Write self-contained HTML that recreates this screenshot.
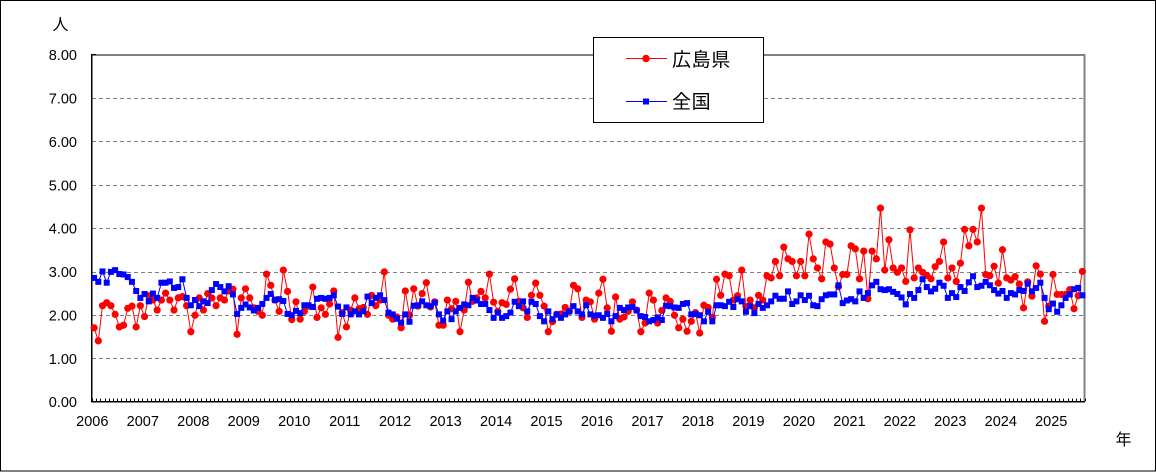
<!DOCTYPE html>
<html><head><meta charset="utf-8">
<style>
html,body{margin:0;padding:0;background:#fff;}
svg{display:block;}
text{font-family:"Liberation Sans","Noto Sans CJK JP",sans-serif;fill:#000;}
.cjk{font-family:"Liberation Sans","Noto Sans CJK JP",sans-serif;}
</style></head>
<body>
<svg id="c" width="1156" height="472" viewBox="0 0 1156 472" xmlns="http://www.w3.org/2000/svg">
<rect x="0" y="0" width="1156" height="472" fill="#fff"/>
<rect x="0.5" y="0.5" width="1155" height="470.5" fill="none" stroke="#000" stroke-width="1"/>
<g stroke="#808080" stroke-width="1" stroke-dasharray="4,3">
<line x1="92" y1="98.5" x2="1084" y2="98.5"/>
<line x1="92" y1="141.5" x2="1084" y2="141.5"/>
<line x1="92" y1="185.5" x2="1084" y2="185.5"/>
<line x1="92" y1="228.5" x2="1084" y2="228.5"/>
<line x1="92" y1="272.5" x2="1084" y2="272.5"/>
<line x1="92" y1="315.5" x2="1084" y2="315.5"/>
<line x1="92" y1="358.5" x2="1084" y2="358.5"/>
</g>
<line x1="92" y1="55" x2="1085.5" y2="55" stroke="#808080" stroke-width="2"/>
<line x1="1084.5" y1="54" x2="1084.5" y2="402" stroke="#808080" stroke-width="2"/>
<line x1="92" y1="54.5" x2="96" y2="54.5" stroke="#000" stroke-width="1"/>
<g id="ticks" stroke="#000" stroke-width="1"></g>
<line x1="91.75" y1="54" x2="91.75" y2="402.5" stroke="#000" stroke-width="1.5"/>
<line x1="91" y1="401.75" x2="1085" y2="401.75" stroke="#000" stroke-width="1.5"/>
<g id="series"></g>
<g font-size="14.5" text-anchor="end">
<text x="77" y="60">8.00</text>
<text x="77" y="103.5">7.00</text>
<text x="77" y="147">6.00</text>
<text x="77" y="190.3">5.00</text>
<text x="77" y="233.7">4.00</text>
<text x="77" y="277">3.00</text>
<text x="77" y="320.4">2.00</text>
<text x="77" y="363.8">1.00</text>
<text x="77" y="407.2">0.00</text>
</g>
<g font-size="14.5" text-anchor="middle">
<text x="92.3" y="426">2006</text>
<text x="142.8" y="426">2007</text>
<text x="193.3" y="426">2008</text>
<text x="243.7" y="426">2009</text>
<text x="294.2" y="426">2010</text>
<text x="344.7" y="426">2011</text>
<text x="395.1" y="426">2012</text>
<text x="445.6" y="426">2013</text>
<text x="496.1" y="426">2014</text>
<text x="546.5" y="426">2015</text>
<text x="597" y="426">2016</text>
<text x="647.5" y="426">2017</text>
<text x="697.9" y="426">2018</text>
<text x="748.4" y="426">2019</text>
<text x="798.9" y="426">2020</text>
<text x="849.4" y="426">2021</text>
<text x="899.8" y="426">2022</text>
<text x="950.3" y="426">2023</text>
<text x="1000.8" y="426">2024</text>
<text x="1051.2" y="426">2025</text>
</g>
<text class="cjk" x="60.5" y="30" font-size="16" text-anchor="middle">人</text>
<text class="cjk" x="1123.5" y="445" font-size="16" text-anchor="middle">年</text>
<rect x="593.5" y="37.5" width="170" height="85" fill="#fff" stroke="#000" stroke-width="1"/>
<line x1="626" y1="58.5" x2="667" y2="58.5" stroke="#ff0000" stroke-width="1"/>
<circle cx="646" cy="58.5" r="3.7" fill="#ff0000"/>
<line x1="626" y1="101.5" x2="667" y2="101.5" stroke="#0000ff" stroke-width="1"/>
<rect x="643" y="98.5" width="6" height="6" fill="#0000ff"/>
<text class="cjk" x="672" y="66" font-size="19" letter-spacing="0.6">広島県</text>
<text class="cjk" x="672" y="108" font-size="19" letter-spacing="0.6">全国</text>
</svg>
<script>
(function(){
var NS="http://www.w3.org/2000/svg";
var red=[1.71,1.41,2.22,2.29,2.22,2.02,1.73,1.77,2.16,2.21,1.73,2.22,
1.97,2.45,2.35,2.12,2.35,2.51,2.35,2.12,2.40,2.43,2.22,1.62,
2.00,2.40,2.12,2.50,2.40,2.22,2.40,2.35,2.56,2.60,1.56,2.40,
2.61,2.40,2.17,2.09,2.00,2.95,2.69,2.35,2.09,3.04,2.55,1.90,
2.31,1.91,2.09,2.21,2.65,1.95,2.17,2.02,2.26,2.56,1.49,2.06,
1.73,2.12,2.40,2.15,2.18,2.02,2.46,2.22,2.35,3.00,2.00,1.91,
1.96,1.71,2.56,2.00,2.61,2.21,2.50,2.75,2.19,2.31,1.77,1.77,
2.35,2.15,2.32,1.62,2.12,2.76,2.32,2.40,2.55,2.40,2.95,2.30,
2.09,2.29,2.25,2.60,2.84,2.32,2.17,1.95,2.46,2.74,2.46,2.21,
1.62,1.85,2.02,2.03,2.18,2.09,2.69,2.61,1.95,2.35,2.31,1.91,
2.51,2.83,2.17,1.63,2.42,1.91,1.96,2.09,2.31,2.12,1.62,1.82,
2.51,2.35,1.82,2.11,2.40,2.32,2.00,1.71,1.91,1.63,1.86,2.06,
1.59,2.23,2.18,1.95,2.83,2.46,2.95,2.91,2.35,2.45,3.04,2.20,
2.35,2.17,2.46,2.35,2.91,2.86,3.24,2.91,3.57,3.30,3.24,2.91,
3.24,2.91,3.87,3.30,3.09,2.84,3.69,3.64,3.09,2.66,2.94,2.94,
3.60,3.53,2.84,3.48,2.38,3.48,3.30,4.47,3.04,3.74,3.09,2.99,
3.09,2.78,3.97,2.86,3.09,2.99,2.92,2.84,3.12,3.24,3.69,2.86,
3.09,2.78,3.20,3.98,3.60,3.98,3.69,4.47,2.94,2.91,3.13,2.74,
3.51,2.86,2.81,2.89,2.72,2.17,2.77,2.44,3.14,2.95,1.86,2.21,
2.94,2.48,2.48,2.48,2.59,2.15,2.45,3.01];
var blue=[2.86,2.77,3.01,2.75,3.00,3.04,2.95,2.94,2.88,2.77,2.56,2.40,
2.49,2.32,2.50,2.40,2.75,2.75,2.78,2.63,2.65,2.83,2.40,2.23,
2.35,2.21,2.32,2.28,2.58,2.72,2.65,2.55,2.67,2.48,2.03,2.17,
2.25,2.18,2.11,2.17,2.26,2.40,2.49,2.35,2.37,2.33,2.03,2.00,
2.10,2.05,2.23,2.23,2.19,2.38,2.40,2.38,2.40,2.46,2.20,2.03,
2.18,2.02,2.09,2.02,2.09,2.43,2.28,2.40,2.46,2.35,2.06,2.02,
1.92,1.83,2.02,1.85,2.22,2.23,2.32,2.23,2.21,2.29,2.02,1.88,
2.09,1.91,2.09,2.17,2.25,2.23,2.40,2.34,2.26,2.26,2.12,1.94,
2.06,1.94,1.98,2.06,2.31,2.21,2.32,2.09,2.31,2.26,1.98,1.86,
2.09,1.91,2.02,1.94,2.02,2.09,2.21,2.09,2.02,2.23,2.02,1.99,
2.00,1.94,2.03,1.86,1.98,2.17,2.12,2.18,2.19,2.11,1.98,1.96,
1.86,1.89,1.95,1.89,2.22,2.21,2.18,2.17,2.26,2.28,2.02,2.03,
2.00,1.86,2.08,1.86,2.23,2.23,2.21,2.31,2.19,2.37,2.32,2.08,
2.21,2.05,2.26,2.17,2.23,2.32,2.45,2.38,2.38,2.55,2.26,2.32,
2.46,2.35,2.45,2.23,2.21,2.37,2.46,2.48,2.48,2.69,2.28,2.34,
2.37,2.32,2.55,2.40,2.51,2.69,2.77,2.60,2.58,2.60,2.54,2.49,
2.41,2.25,2.49,2.40,2.58,2.83,2.65,2.55,2.61,2.75,2.68,2.40,
2.51,2.42,2.65,2.56,2.76,2.90,2.65,2.68,2.77,2.69,2.58,2.50,
2.56,2.40,2.51,2.48,2.58,2.56,2.73,2.55,2.63,2.75,2.40,2.14,
2.27,2.08,2.23,2.40,2.48,2.60,2.63,2.46];
var x0=92, w=(1084.5-92)/236, y0=402, k=43.375;
function X(i){return x0+w*(i+0.5);}
function Y(v){return y0-k*v;}
var tg=document.getElementById("ticks");
for(var t=0;t<=236;t++){
  var l=document.createElementNS(NS,"line");
  var xx=Math.round(x0+w*t)+0.5;
  l.setAttribute("x1",xx);l.setAttribute("x2",xx);
  l.setAttribute("y1",398.5);l.setAttribute("y2",401);
  tg.appendChild(l);
}
var sg=document.getElementById("series");
function draw(arr,color,marker){
  var pts=[];
  for(var i=0;i<arr.length;i++){pts.push(X(i).toFixed(2)+","+Y(arr[i]).toFixed(2));}
  var pl=document.createElementNS(NS,"polyline");
  pl.setAttribute("points",pts.join(" "));
  pl.setAttribute("fill","none");pl.setAttribute("stroke",color);pl.setAttribute("stroke-width","1");
  sg.appendChild(pl);
  for(var j=0;j<arr.length;j++){
    var m;
    if(marker==="c"){
      m=document.createElementNS(NS,"circle");
      m.setAttribute("cx",X(j));m.setAttribute("cy",Y(arr[j]));m.setAttribute("r","3.6");
    }else{
      m=document.createElementNS(NS,"rect");
      m.setAttribute("x",X(j)-3);m.setAttribute("y",Y(arr[j])-3);
      m.setAttribute("width","6");m.setAttribute("height","6");
    }
    m.setAttribute("fill",color);
    sg.appendChild(m);
  }
}
draw(red,"#ff0000","c");
draw(blue,"#0000ff","s");
})();
</script>
</body></html>
